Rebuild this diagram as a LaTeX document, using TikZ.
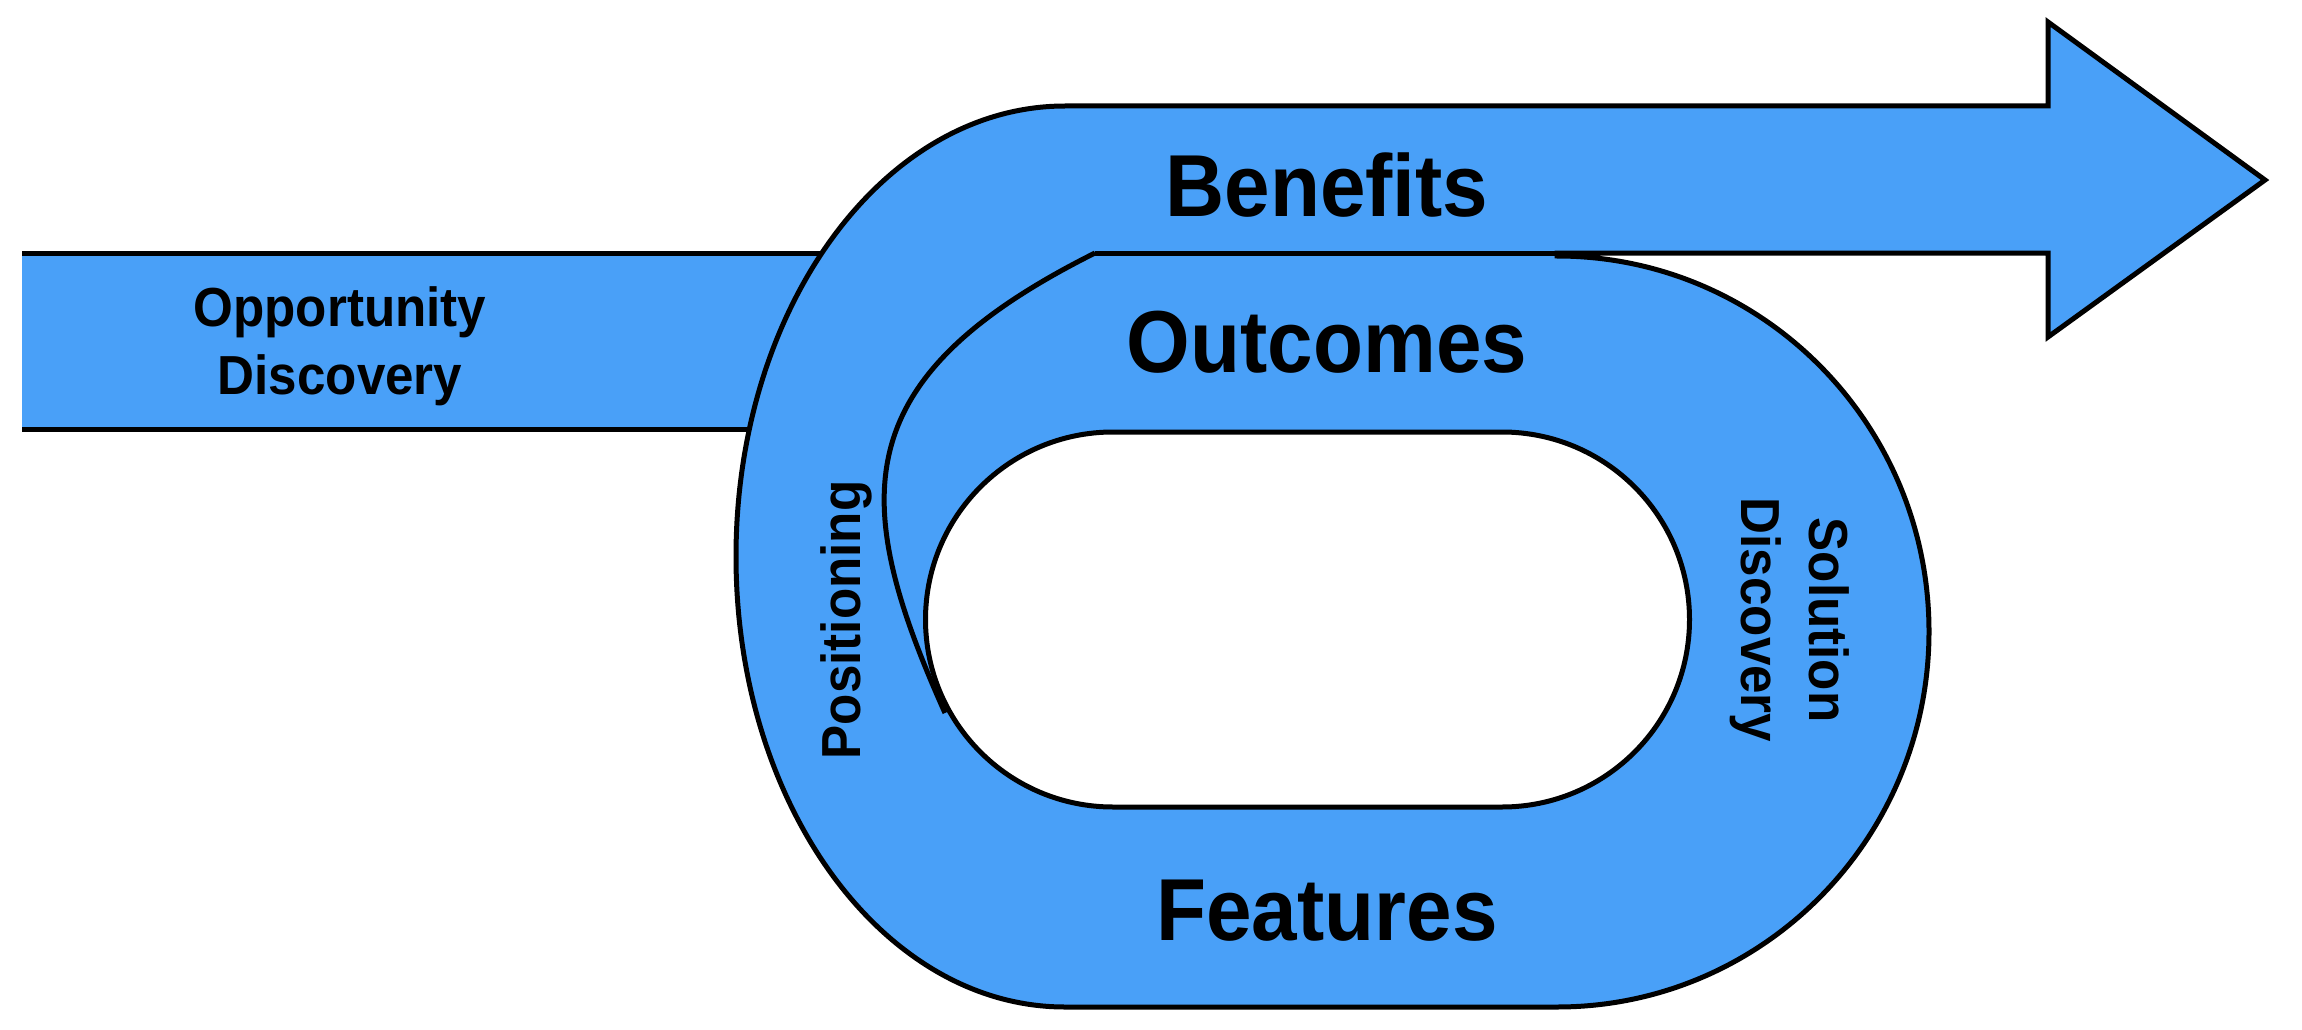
\documentclass[tikz,border=0pt]{standalone}
\usepackage{fontspec}
\newfontfamily\labfont[FakeStretch=0.93]{Liberation Sans}
\definecolor{ribbon}{RGB}{73,160,248}
\tikzset{
  ribbonshape/.style={fill=ribbon, draw=black, line width=5pt},
  edge/.style={draw=black, line width=5pt},
  bigtext/.style={font=\labfont\bfseries\fontsize{88}{100}\selectfont, inner sep=0pt},
  smalltext/.style={font=\labfont\bfseries\fontsize{55}{68}\selectfont, inner sep=0pt, align=center}
}
\begin{document}
\begin{tikzpicture}[x=1pt,y=1pt]
\useasboundingbox (0,0) rectangle (2302,-1030);
% left bar (Opportunity Discovery)
\fill[ribbon] (22,-253) rectangle (860,-429);
% main ribbon: loop + Benefits arrow
\path[ribbonshape] (1065,-106) -- (2048,-106) -- (2048,-22) -- (2265,-180) -- (2048,-337) -- (2048,-253) -- (1557,-253) -- (1557,-256)
  arc[start angle=90, end angle=-90, x radius=372pt, y radius=375.5pt]
  -- (1065,-1007)
  arc[start angle=270, end angle=90, x radius=329pt, y radius=450.5pt] -- cycle;
% bar edges
\draw[edge] (22,-253) -- (822,-253);
\draw[edge] (22,-429) -- (749,-429);
% inner edge under Benefits
\coordinate (pstart) at (1095,-253);
\coordinate (pend) at (945,-713);
\draw[edge] (pstart) -- (1557,-253);
% hole
\path[edge, fill=white] (1113,-432) -- (1502,-432)
  arc[start angle=90, end angle=-90, radius=187.5pt]
  -- (1113,-807)
  arc[start angle=270, end angle=90, radius=187.5pt] -- cycle;
% Positioning curve
\draw[edge] (pstart) .. controls (843,-379) and (850,-501) .. (pend);
% labels
\node[bigtext, anchor=base] (benefits) at (1327,-216) {Benefits};
\node[bigtext, anchor=base] (outcomes) at (1327,-372) {Outcomes};
\node[bigtext, anchor=base] (features) at (1327,-940) {Features};
\node[smalltext] (opp) at (340,-346) {Opportunity\\Discovery};
\node[smalltext, rotate=90, anchor=base] (pos) at (860,-620) {Positioning};
\node[smalltext, rotate=-90] (sol) at (1790,-620) {Solution\\Discovery};
\end{tikzpicture}
\end{document}
